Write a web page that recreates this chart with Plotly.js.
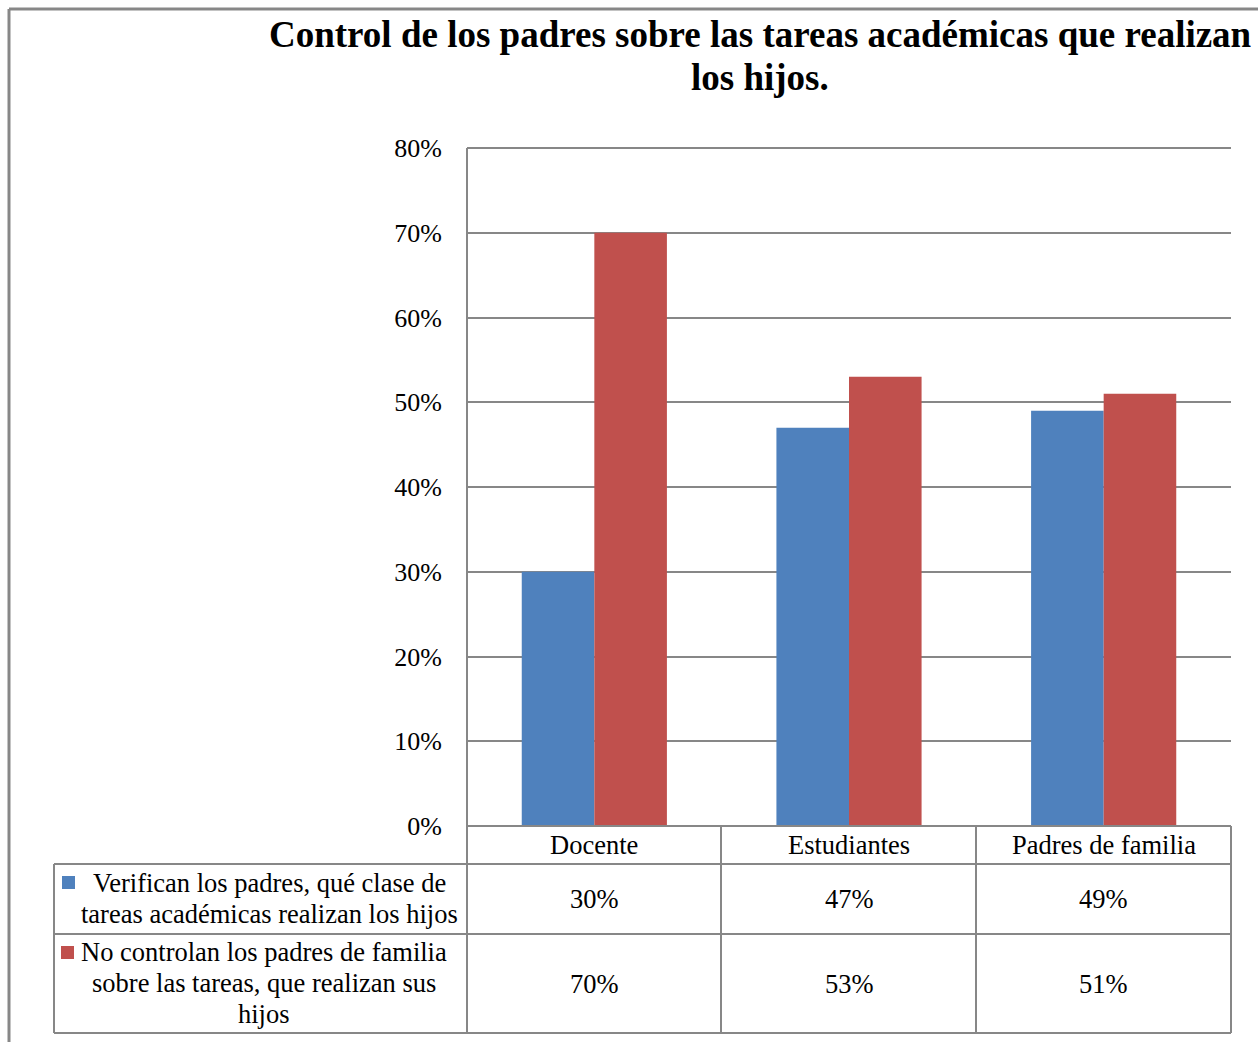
<!DOCTYPE html>
<html>
<head>
<meta charset="utf-8">
<script src="https://cdn.plot.ly/plotly-3.0.1.min.js"></script>
<style>html,body{margin:0;padding:0;background:#fff;}#chart{width:1258px;height:1042px;}</style>
</head>
<body>
<div id="chart"></div>
<script>
const categories = ["Docente", "Estudiantes", "Padres de familia"];
const seriesLines = [
  ["Verifican los padres, qué clase de", "tareas académicas realizan los hijos"],
  ["No controlan los padres de familia", "sobre las tareas, que realizan sus", "hijos"]
];
const verifican = [0.30, 0.47, 0.49];
const noControlan = [0.70, 0.53, 0.51];
const yTicks = [0, 0.1, 0.2, 0.3, 0.4, 0.5, 0.6, 0.7, 0.8];
const titleLines = ["Control de los padres sobre las tareas académicas que realizan", "los hijos."];

const W = 1258, H = 1042;
const L = 467, R = 1231, T = 148, B = 826;
const pw = R - L, ph = B - T;
const px = v => (v - L) / pw;
const py = v => (B - v) / ph;

const blue = "#4F81BD", red = "#C0504D", grid = "#878787";
const font = "Liberation Serif, Times New Roman, serif";

const traces = [
  {type: "bar", x: categories, y: verifican, name: "Verifican", marker: {color: blue}, hoverinfo: "none"},
  {type: "bar", x: categories, y: noControlan, name: "No controlan", marker: {color: red}, hoverinfo: "none"}
];

const shapes = [];
function pline(x0, y0, x1, y1, w, layer) {
  shapes.push({type: "line", xref: "paper", yref: "paper", x0: px(x0), y0: py(y0), x1: px(x1), y1: py(y1),
    layer: layer || "above", line: {color: grid, width: w || 2}});
}
// outer frame
pline(9, 9, 1262, 9, 3);
pline(9, 9, 9, 1045, 3);
// top gridline
pline(L, T, R, T, 2, "below");
// axis line
pline(L, T, L, 1033);
// table lines
pline(L, B, R, B);
pline(54, 864, R, 864);
pline(54, 934, R, 934);
pline(54, 1033, R, 1033);
pline(54, 864, 54, 1033);
[721, 976, R].forEach(x => pline(x, B, x, 1033));
// legend keys
shapes.push({type: "rect", xref: "paper", yref: "paper", x0: px(62), x1: px(75), y0: py(876), y1: py(889),
  fillcolor: blue, line: {width: 0}});
shapes.push({type: "rect", xref: "paper", yref: "paper", x0: px(61), x1: px(74), y0: py(946), y1: py(959),
  fillcolor: red, line: {width: 0}});

const tf = {family: font, size: 26.5, color: "#000"};
const annotations = [];
function ann(o) {
  annotations.push(Object.assign({showarrow: false, xanchor: "center", yanchor: "middle", align: "center", font: tf}, o));
}
categories.forEach((c, i) => {
  ann({xref: "x", yref: "paper", x: c, y: py(845), text: c});
  ann({xref: "x", yref: "paper", x: c, y: py(899), text: Math.round(verifican[i] * 100) + "%"});
  ann({xref: "x", yref: "paper", x: c, y: py(983.5), text: Math.round(noControlan[i] * 100) + "%"});
});
const legendCenters = [[269.5, 269], [264, 264, 264]];
const legendYs = [[883, 914], [952, 983, 1014]];
seriesLines.forEach((lines, s) => {
  lines.forEach((t, k) => {
    ann({xref: "paper", yref: "paper", x: px(legendCenters[s][k]), y: py(legendYs[s][k]), text: t});
  });
});
const titleYs = [35, 77];
titleLines.forEach((t, k) => {
  ann({xref: "paper", yref: "paper", x: px(760), y: py(titleYs[k]), text: "<b>" + t + "</b>",
    font: {family: font, size: 37, color: "#000"}});
});

const layout = {
  width: W, height: H,
  margin: {l: L, r: W - R, t: T, b: H - B, pad: 0},
  paper_bgcolor: "#fff", plot_bgcolor: "#fff",
  showlegend: false,
  barmode: "group", bargap: 0.43, bargroupgap: 0,
  xaxis: {type: "category", range: [-0.5, 2.5], showticklabels: false, showgrid: false, zeroline: false,
    showline: false, ticks: "", fixedrange: true},
  yaxis: {range: [0, 0.8], tickvals: yTicks, tickformat: ".0%", showgrid: true, gridcolor: grid, gridwidth: 2,
    zeroline: false, showline: false, ticks: "", ticklabelstandoff: 24,
    tickfont: {family: font, size: 26, color: "#000"}, fixedrange: true},
  shapes: shapes,
  annotations: annotations
};

Plotly.newPlot("chart", traces, layout, {displayModeBar: false, staticPlot: true});
</script>
</body>
</html>
